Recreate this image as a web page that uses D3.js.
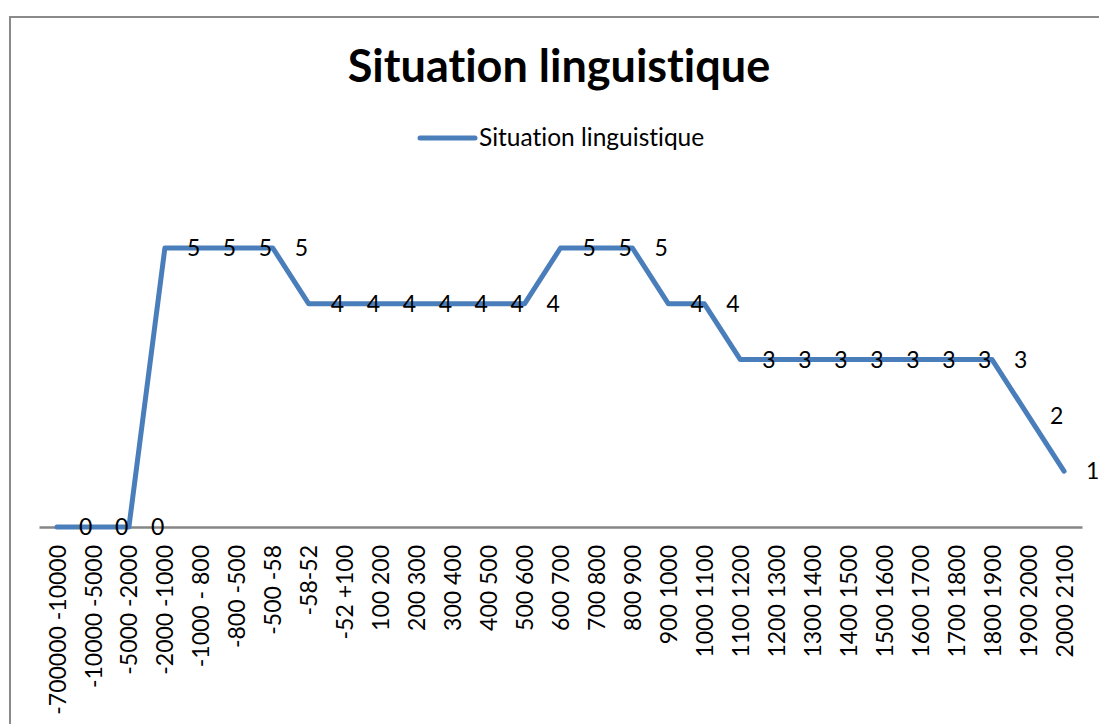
<!DOCTYPE html>
<html>
<head>
<meta charset="utf-8">
<script src="https://cdn.jsdelivr.net/npm/d3@7"></script>
<style>
  body { margin: 0; background: #fff; }
  svg { display: block; font-family: Lato, 'Open Sans', sans-serif; }
  svg text { font-variant-ligatures: none; font-feature-settings: "liga" 0, "clig" 0; }
</style>
</head>
<body>
<div id="chart"></div>
<script>
const categories = [
  '-700000 -10000', '-10000 -5000', '-5000 -2000', '-2000 -1000', '-1000 - 800',
  '-800 -500', '-500 -58', '-58-52', '-52 +100', '100  200', '200 300', '300 400',
  '400 500', '500 600', '600 700', '700 800', '800 900', '900 1000', '1000 1100',
  '1100 1200', '1200 1300', '1300 1400', '1400 1500', '1500 1600', '1600 1700',
  '1700 1800', '1800 1900', '1900 2000', '2000 2100'
]
const values = [0, 0, 0, 5, 5, 5, 5, 4, 4, 4, 4, 4, 4, 4, 5, 5, 5, 4, 4, 3, 3, 3, 3, 3, 3, 3, 3, 2, 1]
const seriesName = 'Situation linguistique'
const chartTitle = 'Situation linguistique'

const canvasWidth = 1099
const canvasHeight = 724
const lineColor = '#4a7ebb'
const axisColor = '#868686'

const data = categories.map((c, i) => ({cat: c, value: values[i]}))

const svg = d3
  .select('#chart')
  .append('svg')
  .attr('width', canvasWidth)
  .attr('height', canvasHeight)

// chart area border (runs off the right and bottom edges)
svg
  .append('rect')
  .attr('x', 10)
  .attr('y', 17)
  .attr('width', 1300)
  .attr('height', 900)
  .attr('fill', '#fff')
  .attr('stroke', '#8a8a8a')
  .attr('stroke-width', 2)

svg
  .append('text')
  .attr('x', 559)
  .attr('y', 82)
  .attr('text-anchor', 'middle')
  .attr('font-size', '45px')
  .attr('font-weight', 'bold')
  .attr('fill', '#000')
  .text(chartTitle)

// legend
const legend = svg.append('g').attr('transform', 'translate(420, 138)')
legend
  .append('line')
  .attr('x1', 0)
  .attr('x2', 55)
  .attr('stroke', lineColor)
  .attr('stroke-width', 5)
  .attr('stroke-linecap', 'round')
legend
  .append('text')
  .attr('x', 59)
  .attr('y', 8)
  .attr('font-size', '24.5px')
  .attr('fill', '#000')
  .text(seriesName)

const xScale = d3
  .scalePoint()
  .domain(categories)
  .range([39, 1082])
  .padding(0.5)

const yScale = d3
  .scaleLinear()
  .domain([0, 6])
  .range([527, 527 - 6 * 55.8])

const xAxis = d3.axisBottom(xScale).tickSize(0).tickSizeOuter(0)

const axisG = svg
  .append('g')
  .attr('transform', `translate(0, ${yScale(0)})`)
  .call(xAxis)

axisG.select('.domain').attr('stroke', axisColor).attr('stroke-width', 2.5)
axisG
  .selectAll('.tick text')
  .attr('transform', 'rotate(-90)')
  .attr('x', -18)
  .attr('y', 0)
  .attr('dy', '0.35em')
  .attr('text-anchor', 'end')
  .attr('font-size', '23px')
  .attr('font-family', 'Lato, sans-serif')
  .attr('fill', '#000')

const line = d3
  .line()
  .x(d => xScale(d.cat))
  .y(d => yScale(d.value))

svg
  .append('path')
  .datum(data)
  .attr('d', line)
  .attr('fill', 'none')
  .attr('stroke', lineColor)
  .attr('stroke-width', 5)
  .attr('stroke-linejoin', 'round')
  .attr('stroke-linecap', 'round')

svg
  .append('g')
  .selectAll('text')
  .data(data)
  .enter()
  .append('text')
  .attr('x', d => xScale(d.cat) + 22)
  .attr('y', d => yScale(d.value))
  .attr('dy', '0.36em')
  .attr('font-size', '23px')
  .attr('fill', '#000')
  .text(d => d.value)
</script>
</body>
</html>
